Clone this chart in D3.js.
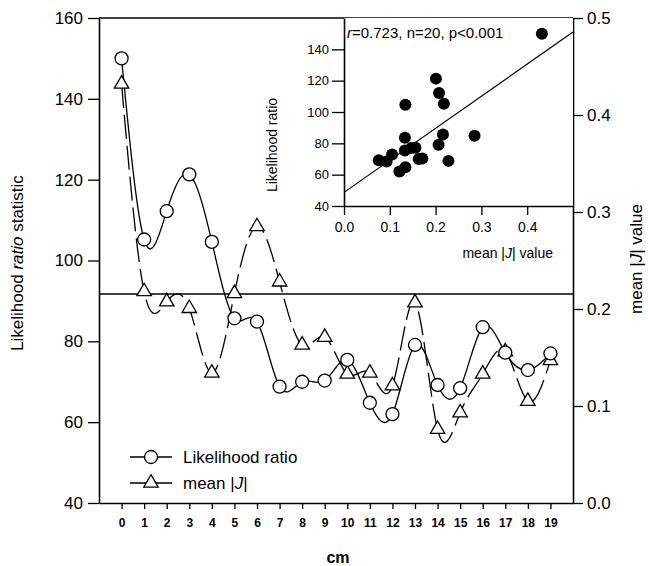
<!DOCTYPE html>
<html>
<head>
<meta charset="utf-8">
<script src="https://cdn.jsdelivr.net/npm/d3@7"></script>
<style>
  body { margin: 0; background: #fff; }
  svg { display: block; font-family: "Liberation Sans", Arial, sans-serif; }
</style>
</head>
<body>
<svg id="chart" width="648" height="566"></svg>
<script>
// positions along the sample (cm)
const positions = [0, 1, 2, 3, 4, 5, 6, 7, 8, 9, 10, 11, 12, 13, 14, 15, 16, 17, 18, 19];
// likelihood ratio statistic (left axis)
const likelihood = [150, 105.2, 112.2, 121.3, 104.6, 85.7, 84.9, 68.8, 70.0, 70.3,
                    75.4, 64.8, 62.0, 79.1, 69.2, 68.4, 83.5, 77.2, 72.9, 77.0];
// mean |J| (right axis)
const meanJ = [0.432, 0.218, 0.2075, 0.2007, 0.134, 0.216, 0.285, 0.228, 0.163, 0.171,
               0.133, 0.134, 0.121, 0.2065, 0.076, 0.093, 0.133, 0.156, 0.105, 0.147];
const threshold = 91.7;

const leftTicks = [40, 60, 80, 100, 120, 140, 160];
const rightTicks = [0.0, 0.1, 0.2, 0.3, 0.4, 0.5];
const insetXTicks = [0.0, 0.1, 0.2, 0.3, 0.4];
const insetYTicks = [40, 60, 80, 100, 120, 140];

const data = positions.map((p, i) => ({ pos: p, lr: likelihood[i], j: meanJ[i] }));

const svg = d3.select("#chart");

// scales of the main panel
const x = d3.scaleLinear().domain([-1, 20]).range([99, 573]);
const yL = d3.scaleLinear().domain([40, 160]).range([503, 18]);
const yR = d3.scaleLinear().domain([0, 0.5]).range([503, 18]);

function styleAxis(g, size, weight) {
    g.selectAll("path").attr("stroke", "#000").attr("stroke-width", 1.6);
    g.selectAll("line").attr("stroke", "#000").attr("stroke-width", 1.3);
    g.selectAll("text")
        .attr("fill", "#000")
        .style("font-size", size + "px")
        .style("font-weight", weight)
        .style("font-family", "'Liberation Sans', Arial, sans-serif");
}

// axes
svg.append("g")
    .attr("transform", "translate(99,0)")
    .call(d3.axisLeft(yL).tickValues(leftTicks).tickSize(11).tickSizeOuter(0).tickPadding(5).tickFormat(d3.format("d")))
    .call(g => styleAxis(g, 17, "normal"));

svg.append("g")
    .attr("transform", "translate(573,0)")
    .call(d3.axisRight(yR).tickValues(rightTicks).tickSize(10).tickSizeOuter(0).tickPadding(4).tickFormat(d3.format(".1f")))
    .call(g => styleAxis(g, 17, "normal"));

svg.append("g")
    .attr("transform", "translate(0,503)")
    .call(d3.axisBottom(x).tickValues(positions).tickSize(6).tickSizeOuter(0).tickPadding(9).tickFormat(d3.format("d")))
    .call(g => styleAxis(g, 12, "bold"));

// top frame
svg.append("line")
    .attr("x1", x.range()[0]).attr("x2", x.range()[1])
    .attr("y1", yL.range()[1]).attr("y2", yL.range()[1])
    .attr("stroke", "#000").attr("stroke-width", 1.6);

// threshold line
svg.append("line")
    .attr("x1", x.range()[0]).attr("x2", x.range()[1])
    .attr("y1", yL(threshold)).attr("y2", yL(threshold))
    .attr("stroke", "#000").attr("stroke-width", 1.4);

// curves
const lrLine = d3.line().x(d => x(d.pos)).y(d => yL(d.lr)).curve(d3.curveNatural);
const jLine = d3.line().x(d => x(d.pos)).y(d => yR(d.j)).curve(d3.curveNatural);

svg.append("path")
    .datum(data)
    .attr("d", jLine)
    .attr("fill", "none")
    .attr("stroke", "#000")
    .attr("stroke-width", 1.3)
    .attr("stroke-dasharray", "24,7");

svg.append("path")
    .datum(data)
    .attr("d", lrLine)
    .attr("fill", "none")
    .attr("stroke", "#000")
    .attr("stroke-width", 1.3);

const tri = d3.symbol().type(d3.symbolTriangle).size(90);

svg.selectAll(".tri")
    .data(data)
    .enter().append("path")
    .attr("class", "tri")
    .attr("d", tri)
    .attr("transform", d => `translate(${x(d.pos)},${yR(d.j)})`)
    .attr("fill", "#fff")
    .attr("stroke", "#000")
    .attr("stroke-width", 1.3);

svg.selectAll(".circ")
    .data(data)
    .enter().append("circle")
    .attr("class", "circ")
    .attr("cx", d => x(d.pos))
    .attr("cy", d => yL(d.lr))
    .attr("r", 6.5)
    .attr("fill", "#fff")
    .attr("stroke", "#000")
    .attr("stroke-width", 1.3);

// axis titles
svg.append("text")
    .attr("transform", "translate(17,263) rotate(-90)")
    .attr("text-anchor", "middle")
    .attr("dy", "0.35em")
    .style("font-size", "17px")
    .call(t => {
        t.append("tspan").text("Likelihood ");
        t.append("tspan").style("font-style", "italic").text("ratio");
        t.append("tspan").text(" statistic");
    });

svg.append("text")
    .attr("transform", "translate(636,259) rotate(-90)")
    .attr("text-anchor", "middle")
    .attr("dy", "0.35em")
    .style("font-size", "17px")
    .call(t => {
        t.append("tspan").text("mean |");
        t.append("tspan").style("font-style", "italic").text("J");
        t.append("tspan").text("| value");
    });

svg.append("text")
    .attr("x", 338).attr("y", 557)
    .attr("dy", "0.35em")
    .attr("text-anchor", "middle")
    .style("font-size", "16px")
    .style("font-weight", "bold")
    .text("cm");

// legend
const legend = svg.append("g").attr("transform", "translate(130,0)");
legend.append("line")
    .attr("x1", 0).attr("x2", 42).attr("y1", 457).attr("y2", 457)
    .attr("stroke", "#000").attr("stroke-width", 1.3);
legend.append("circle")
    .attr("cx", 21).attr("cy", 457).attr("r", 6.5)
    .attr("fill", "#fff").attr("stroke", "#000").attr("stroke-width", 1.3);
legend.append("text")
    .attr("x", 53).attr("y", 457).attr("dy", "0.35em")
    .style("font-size", "17px")
    .text("Likelihood ratio");

legend.append("line")
    .attr("x1", 0).attr("x2", 42).attr("y1", 483).attr("y2", 483)
    .attr("stroke", "#000").attr("stroke-width", 1.3)
    .attr("stroke-dasharray", "22,4");
legend.append("path")
    .attr("d", tri)
    .attr("transform", "translate(21,483)")
    .attr("fill", "#fff").attr("stroke", "#000").attr("stroke-width", 1.3);
legend.append("text")
    .attr("x", 53).attr("y", 483).attr("dy", "0.35em")
    .style("font-size", "17px")
    .call(t => {
        t.append("tspan").text("mean |");
        t.append("tspan").style("font-style", "italic").text("J");
        t.append("tspan").text("|");
    });

// inset: likelihood ratio vs mean |J|
const xi = d3.scaleLinear().domain([0, 0.5]).range([344, 573]);
const yi = d3.scaleLinear().domain([40, 160]).range([206, 18]);

const inset = svg.append("g");
inset.append("rect")
    .attr("x", xi.range()[0]).attr("y", yi.range()[1])
    .attr("width", xi.range()[1] - xi.range()[0])
    .attr("height", yi.range()[0] - yi.range()[1])
    .attr("fill", "#fff");

// least squares fit
const mx = d3.mean(data, d => d.j), my = d3.mean(data, d => d.lr);
const slope = d3.sum(data, d => (d.j - mx) * (d.lr - my)) / d3.sum(data, d => (d.j - mx) ** 2);
const intercept = my - slope * mx;

inset.append("line")
    .attr("x1", xi(0)).attr("y1", yi(intercept))
    .attr("x2", xi(0.5)).attr("y2", yi(intercept + slope * 0.5))
    .attr("stroke", "#000").attr("stroke-width", 1.2);

inset.selectAll(".dot")
    .data(data)
    .enter().append("circle")
    .attr("class", "dot")
    .attr("cx", d => xi(d.j))
    .attr("cy", d => yi(d.lr))
    .attr("r", 6)
    .attr("fill", "#000");

inset.append("g")
    .attr("transform", `translate(${xi.range()[0]},0)`)
    .call(d3.axisLeft(yi).tickValues(insetYTicks).tickSize(12).tickSizeOuter(0).tickPadding(3).tickFormat(d3.format("d")))
    .call(g => styleAxis(g, 13, "normal"));

inset.append("g")
    .attr("transform", `translate(0,${yi.range()[0]})`)
    .call(d3.axisBottom(xi).tickValues(insetXTicks).tickSize(9).tickSizeOuter(0).tickPadding(7).tickFormat(d3.format(".1f")))
    .call(g => styleAxis(g, 14, "normal"));

inset.append("text")
    .attr("transform", "translate(272,145) rotate(-90)")
    .attr("text-anchor", "middle")
    .attr("dy", "0.35em")
    .style("font-size", "14px")
    .text("Likelihood ratio");

inset.append("text")
    .attr("x", 553).attr("y", 253).attr("dy", "0.35em")
    .attr("text-anchor", "end")
    .style("font-size", "14px")
    .call(t => {
        t.append("tspan").text("mean |");
        t.append("tspan").style("font-style", "italic").text("J");
        t.append("tspan").text("| value");
    });

inset.append("text")
    .attr("x", 347).attr("y", 33).attr("dy", "0.35em")
    .style("font-size", "15px")
    .call(t => {
        t.append("tspan").style("font-style", "italic").text("r");
        t.append("tspan").text("=0.723, n=20, p<0.001");
    });
</script>
</body>
</html>
